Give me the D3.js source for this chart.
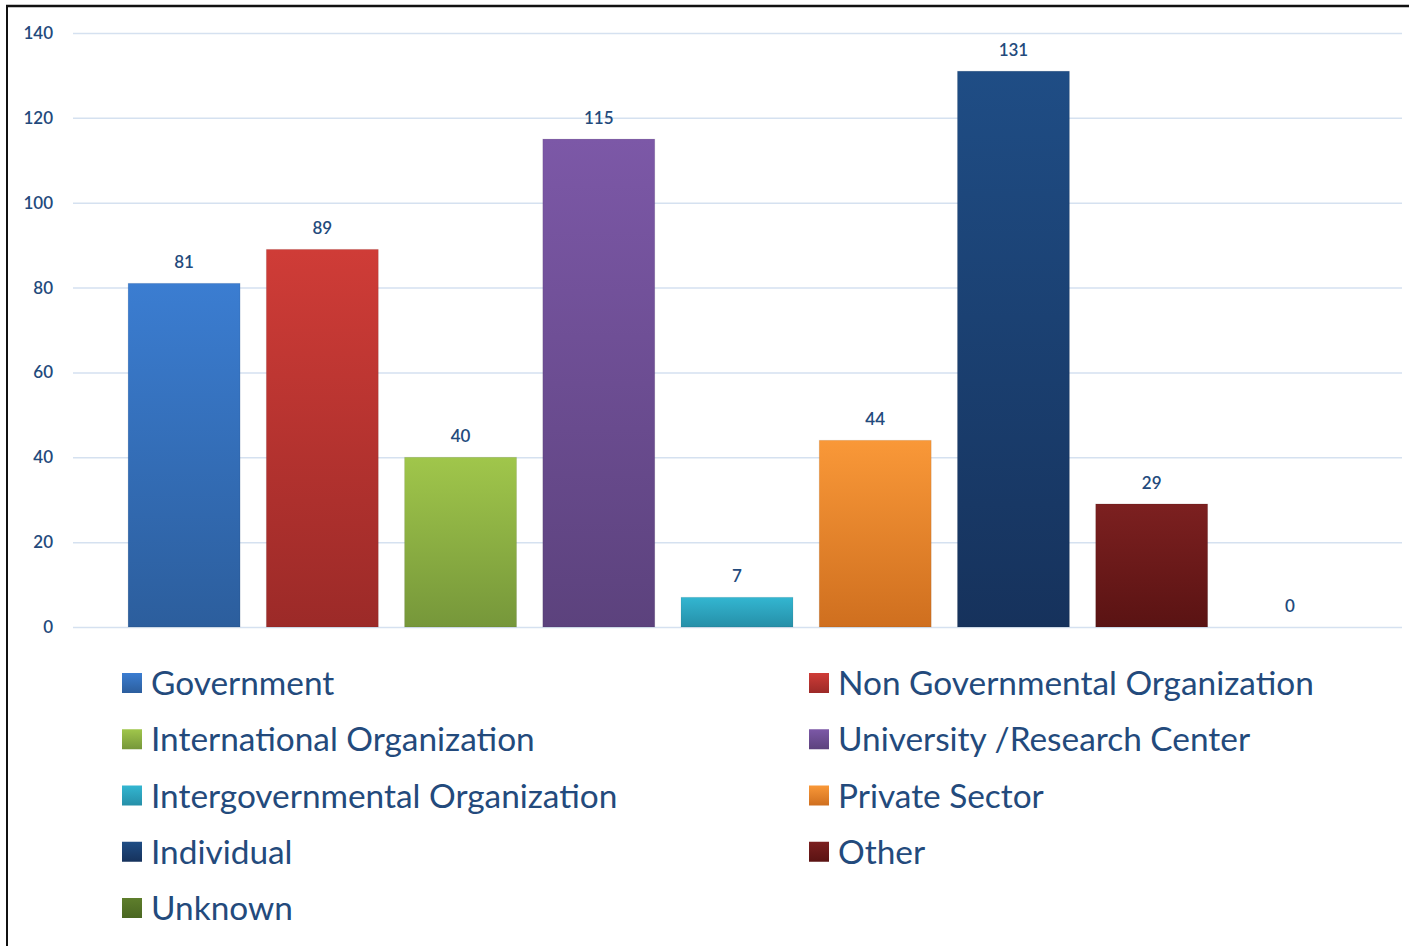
<!DOCTYPE html>
<html>
<head>
<meta charset="utf-8">
<script src="https://cdn.jsdelivr.net/npm/d3@7"></script>
<style>
  body { margin: 0; background: #fff; }
  svg { display: block; font-family: Lato, "Open Sans", sans-serif; }
</style>
</head>
<body>
<div id="chart"></div>
<script>
// --------------- Data ---------------
const categories = [
  "Government",
  "Non Governmental Organization",
  "International Organization",
  "University /Research Center",
  "Intergovernmental Organization",
  "Private Sector",
  "Individual",
  "Other",
  "Unknown",
];
const counts = [81, 89, 40, 115, 7, 44, 131, 29, 0];
const yTicks = [0, 20, 40, 60, 80, 100, 120, 140];
// [top, bottom] of each bar's gradient
const topColors = ["#3b7dd1", "#cf3c37", "#a0c64b", "#7c58a7", "#33b6d1", "#f99838", "#1f4d85", "#7c2020", "#5e7e2c"];
const bottomColors = ["#2c5e9d", "#9c2a28", "#76973a", "#5c427d", "#268fa8", "#cf6f1f", "#16325c", "#5a1313", "#4a6722"];

// --------------- Constants ---------------
const WIDTH = 1409;
const HEIGHT = 946;
const TEXT_COLOR = "#234a7c";
const GRID_COLOR = "#d5e1f0";

const svg = d3
  .select("#chart")
  .append("svg")
  .attr("width", WIDTH)
  .attr("height", HEIGHT);

// frame (top + left edge of the screenshot)
svg.append("line").attr("x1", 6).attr("x2", WIDTH).attr("y1", 6).attr("y2", 6)
  .attr("stroke", "#111").attr("stroke-width", 2.5);
svg.append("line").attr("x1", 7).attr("x2", 7).attr("y1", 5).attr("y2", HEIGHT)
  .attr("stroke", "#111").attr("stroke-width", 2);

const y = d3.scaleLinear().domain([0, 140]).range([627, 33]);
const x = d3.scaleBand().domain(categories).range([115, 1359]).paddingInner(0.19).paddingOuter(0.095);

// gradients
const defs = svg.append("defs");
categories.forEach((c, i) => {
  const grad = defs.append("linearGradient")
    .attr("id", `grad${i}`)
    .attr("x1", 0).attr("x2", 0).attr("y1", 0).attr("y2", 1);
  grad.append("stop").attr("offset", "0%").attr("stop-color", topColors[i]);
  grad.append("stop").attr("offset", "100%").attr("stop-color", bottomColors[i]);
});

// grid + y labels
const yAxis = d3.axisLeft(y).tickValues(yTicks).tickSize(-(1402 - 73)).tickPadding(20);
const gy = svg.append("g").attr("transform", "translate(73,0)").call(yAxis);
gy.select(".domain").remove();
gy.selectAll(".tick line").attr("stroke", GRID_COLOR).attr("stroke-width", 1.5);
gy.selectAll(".tick text")
  .attr("fill", TEXT_COLOR)
  .attr("font-size", 17)
  .attr("font-weight", 600)
  .attr("font-family", "Lato, sans-serif");

// bars
svg.append("g")
  .selectAll("rect")
  .data(categories)
  .join("rect")
  .attr("x", (d) => x(d))
  .attr("width", x.bandwidth())
  .attr("y", (d, i) => y(counts[i]))
  .attr("height", (d, i) => y(0) - y(counts[i]))
  .attr("fill", (d, i) => `url(#grad${i})`)
  .attr("stroke", "rgba(0,0,0,0.08)")
  .attr("stroke-width", 1);

// value labels
svg.append("g")
  .selectAll("text")
  .data(categories)
  .join("text")
  .attr("x", (d) => x(d) + x.bandwidth() / 2)
  .attr("y", (d, i) => y(counts[i]) - 15)
  .attr("text-anchor", "middle")
  .attr("fill", TEXT_COLOR)
  .attr("font-size", 17)
  .attr("font-weight", 600)
  .text((d, i) => counts[i]);

// legend
const legendCols = [122, 809];
const legendRowY = d3.scalePoint().domain(d3.range(5)).range([683, 908]);
const legend = svg.append("g")
  .selectAll("g")
  .data(categories)
  .join("g")
  .attr("transform", (d, i) => `translate(${legendCols[i % 2]},${legendRowY(Math.floor(i / 2))})`);

legend.append("rect")
  .attr("x", 0).attr("y", -10)
  .attr("width", 20).attr("height", 20)
  .attr("fill", (d, i) => `url(#grad${i})`);

legend.append("text")
  .attr("x", 29)
  .attr("dy", "0.36em")
  .attr("fill", TEXT_COLOR)
  .attr("font-size", 33.4)
  .text((d) => d);
</script>
</body>
</html>
